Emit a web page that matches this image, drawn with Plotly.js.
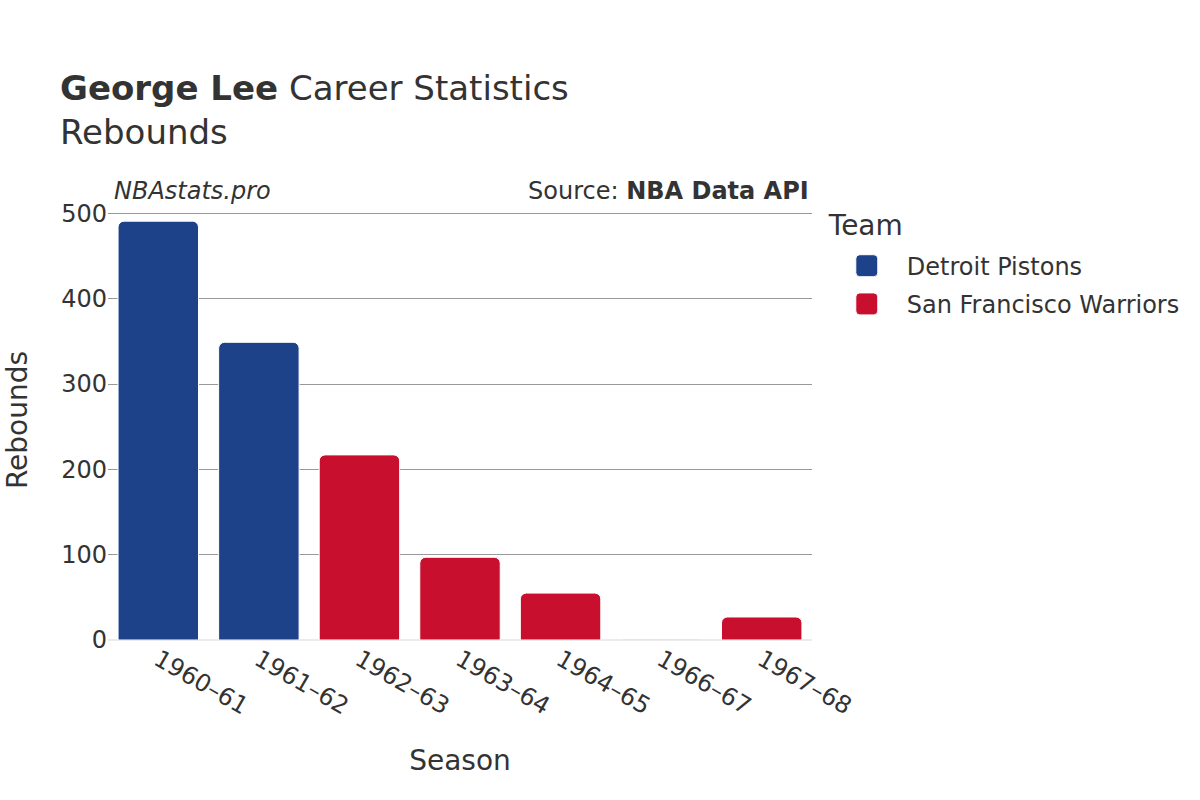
<!DOCTYPE html>
<html>
<head>
<meta charset="utf-8">
<script src="https://cdn.plot.ly/plotly-3.0.1.min.js"></script>
<style>html,body{margin:0;padding:0;background:#fff;}#chart{width:1200px;height:800px;}</style>
</head>
<body>
<div id="chart"></div>
<script>
const seasons = ["1960–61","1961–62","1962–63","1963–64","1964–65","1966–67","1967–68"];
const teams = ["Detroit Pistons","San Francisco Warriors"];
const detroitSeasons = ["1960–61","1961–62"];
const detroitRebounds = [491, 349];
const warriorsSeasons = ["1962–63","1963–64","1964–65","1966–67","1967–68"];
const warriorsRebounds = [217, 97, 55, 1, 27];
const teamColors = ["#1D428A", "#C8102E"];

const font = "DejaVu Sans, sans-serif";
const traces = [
  {type:"bar", name:teams[0], legendgroup:"a", x:detroitSeasons, y:detroitRebounds,
   marker:{color:teamColors[0], cornerradius:6, line:{color:"#ffffff", width:1}}},
  {type:"bar", name:teams[1], legendgroup:"b", x:warriorsSeasons, y:warriorsRebounds,
   marker:{color:teamColors[1], cornerradius:6, line:{color:"#ffffff", width:1}}}
];
const layout = {
  width:1200, height:800,
  paper_bgcolor:"#fff", plot_bgcolor:"#fff",
  font:{family:font, color:"#333", size:24},
  margin:{l:108, r:388, t:200, b:160},
  barmode:"group", bargap:0.2,
  title:{text:"<b>George Lee</b> Career Statistics<br>Rebounds", x:0.05, xanchor:"left", y:0.875, yanchor:"top",
         font:{family:font, size:34, color:"#333"}},
  xaxis:{type:"category", categoryorder:"array", categoryarray:seasons, tickangle:30,
         tickfont:{size:24, color:"#333"}, showgrid:false, showline:false, zeroline:false,
         title:{text:"Season", font:{size:28, color:"#333"}, standoff:30}},
  yaxis:{range:[0,515.8], tickvals:[0,100,200,300,400,500], gridcolor:"#999", gridwidth:1,
         zeroline:true, zerolinecolor:"#ebebeb", zerolinewidth:2,
         ticks:"", tickfont:{size:24, color:"#333"},
         title:{text:"Rebounds", font:{size:28, color:"#333"}, standoff:25}},
  legend:{x:1.021, xanchor:"left", y:0.9836, yanchor:"top", font:{size:24, color:"#333"},
          title:{text:"Team", font:{size:28, color:"#333"}}, itemwidth:70,
          traceorder:"grouped", tracegroupgap:4},
  annotations:[
    {text:"<i>NBAstats.pro</i>", xref:"paper", yref:"paper", x:0, y:1.0, xanchor:"left", yanchor:"bottom",
     yshift:-7, xshift:4, showarrow:false, font:{size:24, color:"#333"}},
    {text:"Source: <b>NBA Data API</b>", xref:"paper", yref:"paper", x:1, y:1.0, xanchor:"right", yanchor:"bottom",
     yshift:-7, xshift:-1, showarrow:false, font:{size:24, color:"#333"}}
  ]
};
function tweakLegend(){
  document.querySelectorAll('#chart .legend .traces .legendpoints path').forEach(function(p){
    p.setAttribute('d','M7,-11H-7A4,4 0 0 0 -11,-7V7A4,4 0 0 0 -7,11H7A4,4 0 0 0 11,7V-7A4,4 0 0 0 7,-11Z');
  });
  document.querySelectorAll('#chart .legend .legendtitletext').forEach(function(t){
    t.setAttribute('transform','translate(0,-9)');
  });
}
Plotly.newPlot("chart", traces, layout, {displayModeBar:false}).then(function(gd){
  tweakLegend();
  gd.on('plotly_afterplot', tweakLegend);
});
</script>
</body>
</html>
